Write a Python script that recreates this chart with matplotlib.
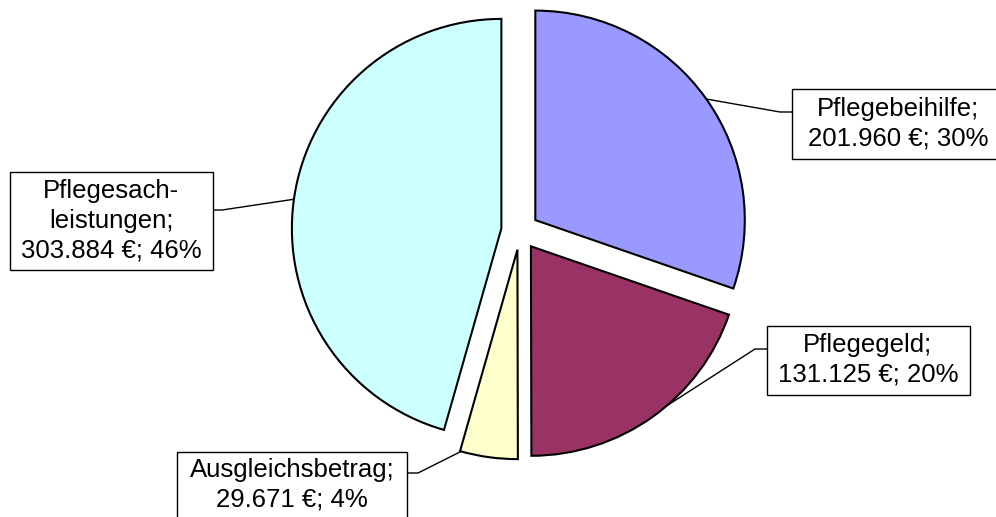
import numpy as np
import matplotlib
matplotlib.use("Agg")
import matplotlib.pyplot as plt
from matplotlib.patches import Rectangle

# Pflegeleistungen nach Art (in Euro)
names = ["Pflegebeihilfe", "Pflegegeld", "Ausgleichsbetrag", "Pflegesach-\nleistungen"]
values = [201960, 131125, 29671, 303884]
colors = ["#9999FF", "#993366", "#FFFFCC", "#CCFFFF"]

W, H = 996, 517
fig = plt.figure(figsize=(W / 100, H / 100), dpi=100)
ax = fig.add_axes([0, 0, 1, 1])

cx, cy, r = 520, H - 231, 209.5
explode_px = 18.8

wedges, _ = ax.pie(values, colors=colors, startangle=90, counterclock=False,
                   center=(cx, cy), radius=r,
                   explode=[explode_px] * len(values),
                   wedgeprops=dict(edgecolor="black", linewidth=1.5))
ax.set_xlim(0, W)
ax.set_ylim(0, H)
ax.set_aspect("equal")
ax.axis("off")

total = sum(values)


def fmt_euro(v):
    return f"{v:,}".replace(",", ".") + " €"


# label boxes (image coords: x0, y0, x1, y1), elbow (x, y), anchor angle on the arc
boxes = [
    ((792, 89, 1010, 159), (780, 112), 35.3),
    ((767, 326, 970, 395), (755, 349), -49.6),
    ((177, 452, 407, 540), (418, 473), -105.6),
    ((10, 172, 213, 270), (222, 210), 172.0),
]
text_centers = [(898, 124), (868, 360), (292, 485), (111, 221)]

for w, name, val, (box, (ex, ey), ang), (tx, ty) in zip(wedges, names, values, boxes, text_centers):
    x0, y0, x1, y1 = box
    ax.add_patch(Rectangle((x0, H - y1), x1 - x0, y1 - y0, facecolor="white",
                           edgecolor="black", linewidth=1.0, zorder=3, clip_on=False))
    # point on the exploded wedge's arc
    ox, oy = w.center
    a = np.deg2rad(ang)
    px, py = ox + r * np.cos(a), oy + r * np.sin(a)
    # leader line: arc point -> elbow -> box edge
    box_x = x1 if px > x1 else x0
    ax.plot([px, ex, box_x], [py, H - ey, H - ey], color="black", linewidth=1.0, zorder=2)
    pct = round(val / total * 100)
    label = f"{name};\n{fmt_euro(val)}; {pct}%"
    ax.text(tx, H - ty, label, ha="center", va="center", fontsize=18.5,
            family=["Liberation Sans", "DejaVu Sans"], linespacing=1.3, zorder=4)

fig.savefig("out.png", dpi=100)
